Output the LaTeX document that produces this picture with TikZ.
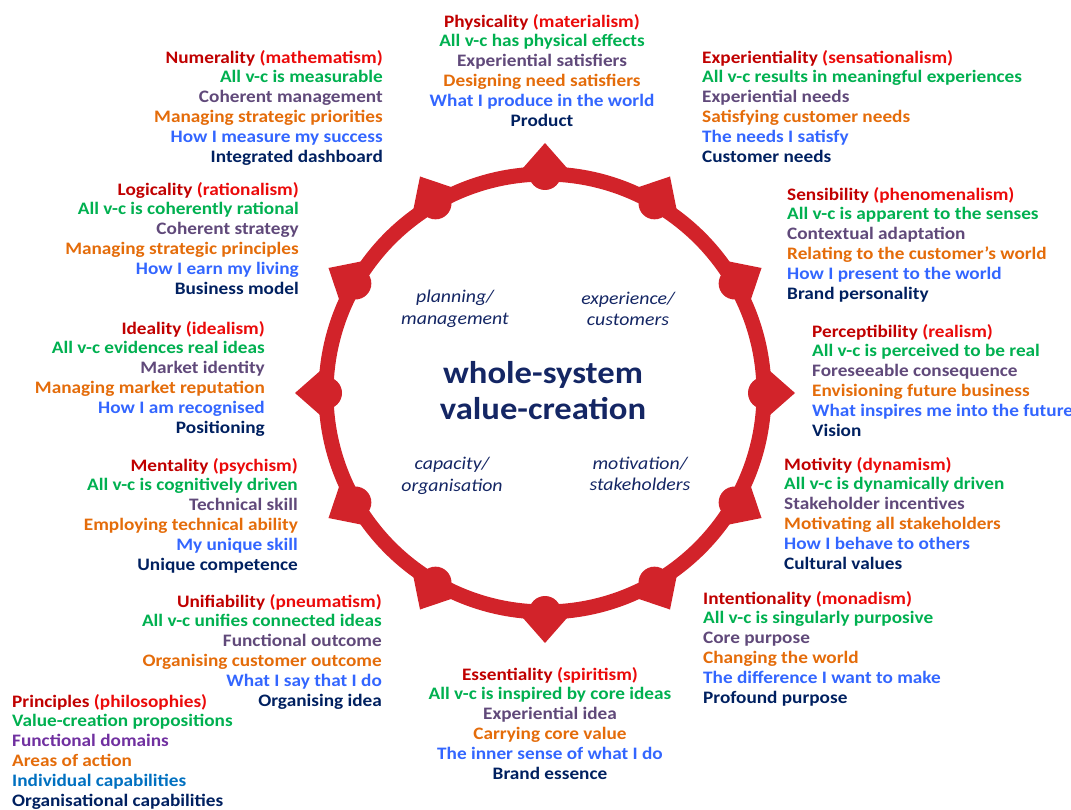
\documentclass[tikz,border=0pt]{standalone}
\usepackage{fontspec}
\setmainfont{Carlito}[FakeStretch = 1.1]
\usetikzlibrary{calc}

\definecolor{ringred}{RGB}{210,35,42}
\definecolor{titlered}{RGB}{192,0,0}
\definecolor{parenred}{RGB}{235,10,10}
\definecolor{propgreen}{RGB}{0,176,80}
\definecolor{domainpurple}{RGB}{96,73,122}
\definecolor{actionorange}{RGB}{228,108,10}
\definecolor{capblue}{RGB}{51,102,255}
\definecolor{orgnavy}{RGB}{0,32,96}
\definecolor{keypurple}{RGB}{112,48,160}
\definecolor{keyblue}{RGB}{0,112,192}
\definecolor{centrenavy}{RGB}{20,38,100}

% one principle: title, (ism), proposition, domain, action, capability, organisation
\newcommand{\facet}[7]{%
  \textcolor{titlered}{#1} \textcolor{parenred}{(#2)}\\
  \textcolor{propgreen}{#3}\\
  \textcolor{domainpurple}{#4}\\
  \textcolor{actionorange}{#5}\\
  \textcolor{capblue}{#6}\\
  \textcolor{orgnavy}{#7}}

\tikzset{
  facet/.style = {inner sep = 0, font = \bfseries\fontsize{17.5}{19.8}\selectfont},
  quarter/.style = {inner sep = 0, align = center, text = centrenavy,
                    font = \itshape\fontsize{18}{21.5}\selectfont},
  marker/.style = {fill = ringred}
}

\begin{document}
\begin{tikzpicture}[x = 1pt, y = -1pt]
  \useasboundingbox (0, 0) rectangle (1071, 810);

  % Ring
  \coordinate (hub) at (545, 393);
  \draw[ringred, line width = 15pt] (hub) circle[radius = 219pt];
  \foreach \a in {0, 30, ..., 330} {
    \fill[marker] ($(hub) + (\a:250pt)$) -- ($(hub) + (\a + 7.6:219pt)$)
      -- ($(hub) + (\a - 7.6:219pt)$) -- cycle;
    \fill[marker] ($(hub) + (\a:219pt)$) circle[radius = 16pt];
  }

  % Centre
  \node[inner sep = 0, align = center, text = centrenavy,
        font = \bfseries\fontsize{31.5}{36}\selectfont] (title) at (543, 391)
        {whole-system\\value-creation};
  \node[quarter] (planning) at (455, 309) {planning/\\management};
  \node[quarter] (experience) at (628, 309) {experience/\\customers};
  \node[quarter] (capacity) at (452, 476) {capacity/\\organisation};
  \node[quarter] (motivation) at (640, 474) {motivation/\\stakeholders};

  % Principles, clockwise from the top
  \node[facet, align = center, anchor = north] (physicality) at (542, 14)
    {\facet{Physicality}{materialism}{All v-c has physical effects}{Experiential satisfiers}
      {Designing need satisfiers}{What I produce in the world}{Product}};
  \node[facet, align = left, anchor = north west] (experientiality) at (702, 50)
    {\facet{Experientiality}{sensationalism}{All v-c results in meaningful experiences}{Experiential needs}
      {Satisfying customer needs}{The needs I satisfy}{Customer needs}};
  \node[facet, align = left, anchor = north west] (sensibility) at (787, 187)
    {\facet{Sensibility}{phenomenalism}{All v-c is apparent to the senses}{Contextual adaptation}
      {Relating to the customer’s world}{How I present to the world}{Brand personality}};
  \node[facet, align = left, anchor = north west] (perceptibility) at (812, 324)
    {\facet{Perceptibility}{realism}{All v-c is perceived to be real}{Foreseeable consequence}
      {Envisioning future business}{What inspires me into the future}{Vision}};
  \node[facet, align = left, anchor = north west] (motivity) at (784, 457)
    {\facet{Motivity}{dynamism}{All v-c is dynamically driven}{Stakeholder incentives}
      {Motivating all stakeholders}{How I behave to others}{Cultural values}};
  \node[facet, align = left, anchor = north west] (intentionality) at (703, 591)
    {\facet{Intentionality}{monadism}{All v-c is singularly purposive}{Core purpose}
      {Changing the world}{The difference I want to make}{Profound purpose}};
  \node[facet, align = center, anchor = north] (essentiality) at (550, 667)
    {\facet{Essentiality}{spiritism}{All v-c is inspired by core ideas}{Experiential idea}
      {Carrying core value}{The inner sense of what I do}{Brand essence}};
  \node[facet, align = right, anchor = north east] (unifiability) at (382, 594)
    {\facet{Unifiability}{pneumatism}{All v-c unifies connected ideas}{Functional outcome}
      {Organising customer outcome}{What I say that I do}{Organising idea}};
  \node[facet, align = right, anchor = north east] (mentality) at (298, 458)
    {\facet{Mentality}{psychism}{All v-c is cognitively driven}{Technical skill}
      {Employing technical ability}{My unique skill}{Unique competence}};
  \node[facet, align = right, anchor = north east] (ideality) at (265, 321)
    {\facet{Ideality}{idealism}{All v-c evidences real ideas}{Market identity}
      {Managing market reputation}{How I am recognised}{Positioning}};
  \node[facet, align = right, anchor = north east] (logicality) at (299, 182)
    {\facet{Logicality}{rationalism}{All v-c is coherently rational}{Coherent strategy}
      {Managing strategic principles}{How I earn my living}{Business model}};
  \node[facet, align = right, anchor = north east] (numerality) at (383, 50)
    {\facet{Numerality}{mathematism}{All v-c is measurable}{Coherent management}
      {Managing strategic priorities}{How I measure my success}{Integrated dashboard}};

  % Key
  \node[facet, align = left, anchor = north west] (key) at (12, 694)
    {\textcolor{titlered}{Principles} \textcolor{parenred}{(philosophies)}\\
     \textcolor{propgreen}{Value-creation propositions}\\
     \textcolor{keypurple}{Functional domains}\\
     \textcolor{actionorange}{Areas of action}\\
     \textcolor{keyblue}{Individual capabilities}\\
     \textcolor{orgnavy}{Organisational capabilities}};
\end{tikzpicture}
\end{document}
